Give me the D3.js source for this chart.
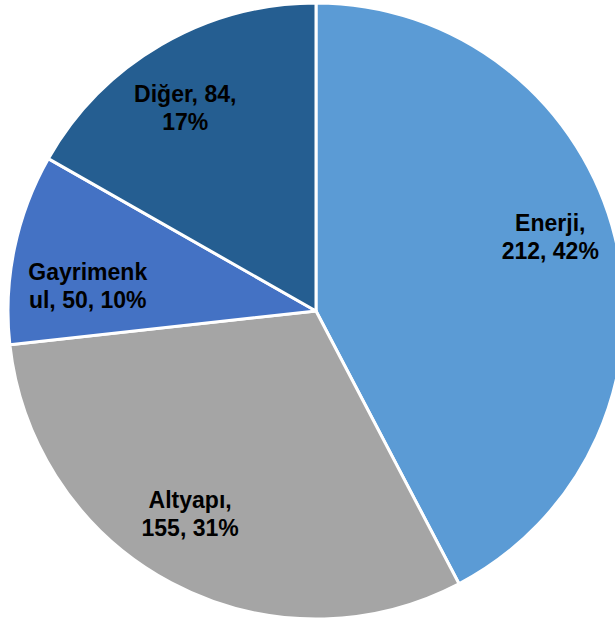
<!DOCTYPE html>
<html>
    <head>
        <meta charset="UTF-8" />
        <title>Pie</title>
        <script src="https://cdn.jsdelivr.net/npm/d3@7/dist/d3.min.js"></script>
        <style>
            html, body { margin: 0; padding: 0; background: #fff; }
            svg { display: block; }
        </style>
    </head>
    <body>
        <svg id="chart" width="615" height="621"></svg>
        <script>
            var categories = ["Enerji", "Altyapı", "Gayrimenkul", "Diğer"]
            var values = [212, 155, 50, 84]
            var percents = [42, 31, 10, 17]
            var colors = ["#5b9bd5", "#a5a5a5", "#4472c4", "#255e91"]

            var cx = 316, cy = 311, radius = 308
            var fontSize = 23, maxLabelWidth = 120
            // small shifts so labels sit where the original put them
            var nudge = [[1, -17], [-13, -9], [7, 24], [-10, 5]]

            var svg = d3.select("#chart")
            var g = svg.append("g").attr("transform", "translate(" + cx + "," + cy + ")")

            var pie = d3.pie().sort(null).value(d => d)
            var arcs = pie(values)

            var arc = d3.arc().innerRadius(0).outerRadius(radius)
            var labelArc = d3.arc().innerRadius(radius * 0.78).outerRadius(radius * 0.78)

            g.selectAll("path.slice")
                .data(arcs)
                .enter()
                .append("path")
                .attr("class", "slice")
                .attr("d", arc)
                .attr("fill", (d, i) => colors[i])
                .attr("stroke", "#fff")
                .attr("stroke-width", 3)
                .attr("stroke-linejoin", "round")

            function wrapWords(text) {
                // measure with a hidden text node, break by word then by character
                var probe = svg.append("text")
                    .style("font-family", "Arial, 'Liberation Sans', sans-serif")
                    .style("font-weight", "bold")
                    .style("font-size", fontSize + "px")
                function w(s) { probe.text(s); return probe.node().getComputedTextLength() }
                var words = text.split(" ")
                var lines = []
                var cur = ""
                words.forEach(function (word) {
                    var trial = cur ? cur + " " + word : word
                    if (w(trial) <= maxLabelWidth) { cur = trial; return }
                    if (cur) lines.push(cur)
                    cur = word
                    while (w(cur) > maxLabelWidth) {
                        var k = cur.length
                        while (k > 1 && w(cur.slice(0, k)) > maxLabelWidth) k--
                        lines.push(cur.slice(0, k))
                        cur = cur.slice(k)
                    }
                })
                if (cur) lines.push(cur)
                probe.remove()
                return lines
            }

            var lineHeight = 28

            arcs.forEach(function (d, i) {
                var c = labelArc.centroid(d)
                var x = c[0] + nudge[i][0]
                var y = c[1] + nudge[i][1]
                var lines = wrapWords(categories[i] + ", " + values[i] + ", " + percents[i] + "%")
                var t = g.append("text")
                    .attr("text-anchor", "middle")
                    .style("font-family", "Arial, 'Liberation Sans', sans-serif")
                    .style("font-weight", "bold")
                    .style("font-size", fontSize + "px")
                    .attr("fill", "#000")
                var y0 = y - (lines.length - 1) * lineHeight / 2 + fontSize * 0.35
                lines.forEach(function (ln, j) {
                    t.append("tspan")
                        .attr("x", x)
                        .attr("y", y0 + j * lineHeight)
                        .text(ln)
                })
            })
        </script>
    </body>
</html>
